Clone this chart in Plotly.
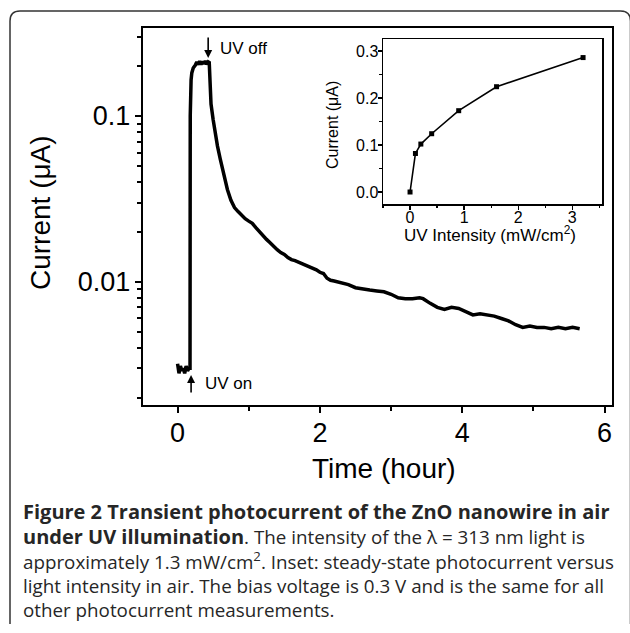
import plotly.graph_objects as go

W, H = 630, 633

# ---------------- data ----------------
time_h = [0.00, 0.02, 0.04, 0.06, 0.08, 0.10, 0.12, 0.14, 0.16, 0.175,
          0.178, 0.182, 0.19, 0.20, 0.22, 0.25, 0.27, 0.29, 0.31, 0.33, 0.35, 0.37, 0.39, 0.41, 0.43, 0.445,
          0.45, 0.455, 0.47, 0.50, 0.53, 0.56, 0.60, 0.65, 0.70, 0.75, 0.80, 0.85, 0.90, 0.95,
          1.00, 1.05, 1.10, 1.15, 1.20, 1.25, 1.30, 1.35, 1.40, 1.45, 1.50, 1.55, 1.60, 1.65,
          1.70, 1.75, 1.80, 1.85, 1.90, 1.95, 2.00, 2.05, 2.10, 2.15, 2.20, 2.30, 2.40, 2.50,
          2.60, 2.70, 2.80, 2.90, 3.00, 3.10, 3.20, 3.30, 3.40, 3.45, 3.55, 3.65, 3.75, 3.85,
          3.95, 4.05, 4.15, 4.25, 4.35, 4.45, 4.55, 4.65, 4.75, 4.85, 4.95, 5.05, 5.15, 5.25,
          5.35, 5.45, 5.55, 5.65]
current_uA = [0.0032, 0.0028, 0.0031, 0.0029, 0.0030, 0.0028, 0.0031, 0.0029, 0.0030, 0.0030,
              0.10, 0.14, 0.165, 0.182, 0.195, 0.203, 0.212, 0.204, 0.214, 0.205, 0.213, 0.206, 0.215, 0.205, 0.212, 0.210,
              0.17, 0.14, 0.118, 0.095, 0.078, 0.066, 0.055, 0.044, 0.036, 0.031, 0.028, 0.0265, 0.0250, 0.0240,
              0.0232, 0.0225, 0.0212, 0.0200, 0.0189, 0.0180, 0.0172, 0.0163, 0.0156, 0.0150, 0.0146, 0.0140, 0.0136, 0.0134,
              0.0131, 0.0128, 0.0125, 0.0123, 0.0121, 0.0118, 0.0114, 0.0112, 0.0105, 0.0102, 0.0101, 0.0099, 0.0096, 0.0092,
              0.0090, 0.0089, 0.0088, 0.0087, 0.0084, 0.0080, 0.0079, 0.0079, 0.0080, 0.0079, 0.0074, 0.0070, 0.0068, 0.0070,
              0.0069, 0.0066, 0.0063, 0.0064, 0.0063, 0.0062, 0.0060, 0.0058, 0.0055, 0.0053, 0.0054, 0.0053, 0.0053, 0.0052,
              0.0053, 0.0052, 0.0053, 0.0052]

inset_intensity = [0.0, 0.1, 0.2, 0.4, 0.9, 1.6, 3.2]
inset_current = [0.0, 0.082, 0.102, 0.124, 0.173, 0.224, 0.286]

main_tickvals = [0.01, 0.1]
main_ticktext = ["0.01", "0.1"]
main_minor = [0.002, 0.003, 0.004, 0.005, 0.006, 0.007, 0.008, 0.009,
              0.02, 0.03, 0.04, 0.05, 0.06, 0.07, 0.08, 0.09, 0.2, 0.3]
x_tickvals = [0, 2, 4, 6]
inset_xticks = [0, 1, 2, 3]
inset_yticks = [0.0, 0.1, 0.2, 0.3]
inset_yticktext = ["0.0", "0.1", "0.2", "0.3"]

BOLD = '<span style="font-size:20px"><b>{}</b></span>'
caption_lines = [
    BOLD.format("Figure 2 Transient photocurrent of the ZnO nanowire in air"),
    BOLD.format("under UV illumination") + ". The intensity of the λ = 313 nm light is",
    "approximately 1.3 mW/cm<sup>2</sup>. Inset: steady-state photocurrent versus",
    "light intensity in air. The bias voltage is 0.3 V and is the same for all",
    "other photocurrent measurements.",
]

# ---------------- helpers ----------------
def px(x):
    return x / W

def py(y):
    return 1 - y / H

FONT = "Liberation Sans, Arial, sans-serif"

fig = go.Figure()

fig.add_trace(go.Scatter(x=time_h, y=current_uA, mode="lines",
                         line=dict(color="black", width=3.5),
                         xaxis="x", yaxis="y", showlegend=False))

fig.add_trace(go.Scatter(x=inset_intensity, y=inset_current, mode="lines+markers",
                         line=dict(color="black", width=1.6),
                         marker=dict(symbol="square", size=5, color="black"),
                         xaxis="x2", yaxis="y2", showlegend=False))

axis_common = dict(showgrid=False, zeroline=False, linecolor="black", mirror=True,
                   tickcolor="black", ticks="outside")

fig.update_layout(
    width=W, height=H,
    margin=dict(l=0, r=0, t=0, b=0),
    paper_bgcolor="white", plot_bgcolor="white",
    font=dict(family=FONT, color="black"),
    xaxis=dict(domain=[px(142.7), px(611.7)], range=[-0.49, 6.1],
               tickvals=x_tickvals, ticklen=6, tickwidth=2, linewidth=2,
               tickfont=dict(size=27), ticklabelstandoff=-3,
               minor=dict(tickvals=[1, 3, 5], ticklen=4, tickwidth=2, ticks="outside", tickcolor="black"),
               anchor="y", **axis_common),
    yaxis=dict(domain=[py(405), py(28)], type="log", range=[-2.744, -0.469],
               tickvals=main_tickvals, ticktext=main_ticktext, ticklen=6, tickwidth=2, linewidth=2,
               tickfont=dict(size=27), ticklabelstandoff=-1,
               minor=dict(tickvals=main_minor, ticklen=4, tickwidth=2, ticks="outside", tickcolor="black"),
               anchor="x", **axis_common),
    xaxis2=dict(domain=[px(383), px(602)], range=[-0.5, 3.55],
                tickvals=inset_xticks, ticklen=4, tickwidth=1.3, linewidth=1.5,
                tickfont=dict(size=16), ticklabelstandoff=-6,
                minor=dict(tickvals=[-0.5, 0.5, 1.5, 2.5, 3.5], ticklen=2.5, tickwidth=1.2, ticks="outside", tickcolor="black"),
                anchor="y2", **axis_common),
    yaxis2=dict(domain=[py(204), py(39)], range=[-0.0255, 0.3255],
                tickvals=inset_yticks, ticktext=inset_yticktext, ticklen=4, tickwidth=1.3, linewidth=1.5,
                tickfont=dict(size=16), ticklabelstandoff=-4,
                minor=dict(tickvals=[0.05, 0.15, 0.25], ticklen=2.5, tickwidth=1.2, ticks="outside", tickcolor="black"),
                anchor="x2", **axis_common),
)

annotations = []
# axis titles
annotations.append(dict(x=px(40), y=py(213), xref="paper", yref="paper", text="Current (μA)",
                        textangle=-90, showarrow=False, font=dict(size=28, family=FONT),
                        xanchor="center", yanchor="middle"))
annotations.append(dict(x=px(384), y=py(468), xref="paper", yref="paper", text="Time (hour)",
                        showarrow=False, font=dict(size=28, family=FONT),
                        xanchor="center", yanchor="middle"))
annotations.append(dict(x=px(332), y=py(125), xref="paper", yref="paper", text="Current (μA)",
                        textangle=-90, showarrow=False, font=dict(size=16, family=FONT),
                        xanchor="center", yanchor="middle"))
annotations.append(dict(x=px(490), y=py(234), xref="paper", yref="paper",
                        text="UV Intensity (mW/cm<sup>2</sup>)",
                        showarrow=False, font=dict(size=17, family=FONT),
                        xanchor="center", yanchor="middle"))
# arrows
annotations.append(dict(x=0.43, y=-0.65, xref="x", yref="y", text="", showarrow=True,
                        ax=0, ay=-22, arrowhead=2, arrowsize=1.0, arrowwidth=1.6, arrowcolor="black"))
annotations.append(dict(x=0.19, y=-2.563, xref="x", yref="y", text="", showarrow=True,
                        ax=0, ay=19, arrowhead=2, arrowsize=1.0, arrowwidth=1.6, arrowcolor="black"))
annotations.append(dict(x=0.566, y=-0.59, xref="x", yref="y", text="UV off", showarrow=False,
                        xanchor="left", yanchor="middle", font=dict(size=17, family=FONT)))
annotations.append(dict(x=0.355, y=-2.617, xref="x", yref="y", text="UV on", showarrow=False,
                        xanchor="left", yanchor="middle", font=dict(size=17, family=FONT)))
# caption
cap_y = [511, 536, 561, 586, 610]
for line, yy in zip(caption_lines, cap_y):
    annotations.append(dict(x=px(21), y=py(yy), xref="paper", yref="paper", text=line,
                            showarrow=False, xanchor="left", yanchor="middle",
                            font=dict(size=18.8, family="Open Sans, sans-serif", color="#262626")))
fig.update_layout(annotations=annotations)

# card border (rounded corners)
x0, x1 = px(10), px(630.5)
yt, yb = py(11), py(634)
rx, ry = 10 / W, 10 / H
path = (f"M {x0},{yb + ry} L {x0},{yt - ry} Q {x0},{yt} {x0 + rx},{yt} "
        f"L {x1 - rx},{yt} Q {x1},{yt} {x1},{yt - ry} L {x1},{yb + ry}")
fig.add_shape(type="path", path=path, xref="paper", yref="paper",
              line=dict(color="#333333", width=1.5))

fig.write_html("out.html", config={"displayModeBar": False, "staticPlot": True},
               post_script="document.body.style.margin='0';document.body.style.overflow='hidden';")
